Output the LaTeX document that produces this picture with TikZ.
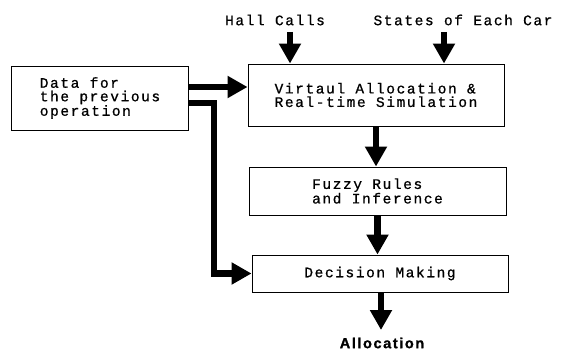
\documentclass[tikz,border=0pt]{standalone}
\usepackage{fontspec}
\usetikzlibrary{arrows.meta}
\newfontfamily\dmfont[LetterSpace=11, FakeBold=0.8]{Liberation Mono}
\newfontfamily\allocfont[LetterSpace=11, FakeBold=1.2]{Liberation Sans}
\begin{document}
\begin{tikzpicture}[x=1pt,y=-1pt,
  box/.style={draw, line width=0.9pt, inner sep=0pt, align=left,
    font=\dmfont\fontsize{14.5}{13.5}\selectfont},
  lab/.style={inner sep=0pt, font=\dmfont\fontsize{14.5}{13.5}\selectfont},
  flow/.style={line width=6.5pt, line join=miter,
    -{Triangle[length=20pt,width=21pt]}}]
\useasboundingbox (0,0) rectangle (564,350);
\node[box, minimum width=177, minimum height=64] (data) at (100,98)
  {Data for\\the previous\\operation};
\node[box, minimum width=256, minimum height=62] (sim) at (376,95)
  {Virtaul Allocation \&\\Real-time Simulation};
\node[box, minimum width=257, minimum height=48] (fuzzy) at (377.5,191)
  {Fuzzy Rules\\and Inference};
\node[box, minimum width=256, minimum height=37] (dec) at (380,273.5)
  {Decision Making};
\node[lab] (hall) at (275,20) {Hall Calls};
\node[lab] (states) at (463,20) {States of Each Car};
\node[inner sep=0pt, font=\allocfont\bfseries\fontsize{14.5}{14}\selectfont]
  (alloc) at (382,343) {Allocation};
\coordinate (hallin) at (290,32);
\coordinate (statesin) at (444,32);
\coordinate (allocin) at (381,330);
\draw[flow] (hallin) -- (hallin |- sim.north);
\draw[flow] (statesin) -- (statesin |- sim.north);
\draw[flow] ([yshift=11pt]data.east) -- ([yshift=11pt]data.east -| sim.west);
\draw[flow] ([yshift=-5pt]data.east) -- ++(25,0) |- (dec.west);
\draw[flow] (sim.south) -- (sim.south |- fuzzy.north);
\draw[flow] (fuzzy.south) -- (fuzzy.south |- dec.north);
\draw[flow] (allocin |- dec.south) -- (allocin);
\end{tikzpicture}
\end{document}
